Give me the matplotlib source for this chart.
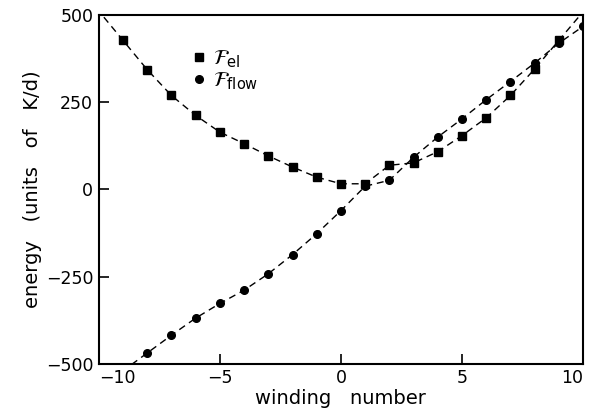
import numpy as np
import matplotlib
matplotlib.use("Agg")
import matplotlib.pyplot as plt

# winding number vs energy (units of K/d)
x_el = [-9, -8, -7, -6, -5, -4, -3, -2, -1, 0, 1, 2, 3, 4, 5, 6, 7, 8, 9]
f_el = [427, 343, 269, 212, 164, 131, 96, 64, 35, 16, 16, 69, 76, 108, 154, 205, 269, 345, 427]

x_flow = [-8, -7, -6, -5, -4, -3, -2, -1, 0, 1, 2, 3, 4, 5, 6, 7, 8, 9, 10]
f_flow = [-469, -418, -369, -327, -289, -242, -187, -127, -61, 9, 26, 92, 150, 202, 257, 309, 362, 419, 467]


def extend(x, y, lo=-11, hi=11):
    """connect the points and run the end segments out past the frame"""
    x = list(x); y = list(y)
    s0 = (y[1] - y[0]) / (x[1] - x[0])
    s1 = (y[-1] - y[-2]) / (x[-1] - x[-2])
    xs = [lo] + x + [hi]
    ys = [y[0] + s0 * (lo - x[0])] + y + [y[-1] + s1 * (hi - x[-1])]
    return xs, ys


plt.rcParams['font.family'] = 'DejaVu Sans'
fig = plt.figure(figsize=(5.95, 4.13), dpi=100)
ax = fig.add_axes([0.166, 0.119, 0.814, 0.845])

dash = (0, (5, 3.5))
xs, ys = extend(x_el, f_el)
ax.plot(xs, ys, color='black', lw=1.0, linestyle=dash)
xs, ys = extend(x_flow, f_flow)
ax.plot(xs, ys, color='black', lw=1.0, linestyle=dash)

ax.plot(x_el, f_el, 's', color='black', ms=5.5, label=r'$\mathcal{F}_{\mathsf{el}}$')
ax.plot(x_flow, f_flow, 'o', color='black', ms=5.5, label=r'$\mathcal{F}_{\mathsf{flow}}$')

ax.set_xlim(-10, 10)
ax.set_ylim(-500, 500)
ax.set_xticks([-10, -5, 0, 5, 10])
ax.set_yticks([-500, -250, 0, 250, 500])
ax.tick_params(direction='in', length=7, width=1.2, labelsize=12.5, pad=4)
xl = ax.get_xticklabels()
xl[0].set_ha('left')
xl[-1].set_ha('right')
for sp in ax.spines.values():
    sp.set_linewidth(1.5)

ax.set_xlabel('winding   number', fontsize=14, labelpad=1)
ax.set_ylabel('energy   (units   of   K/d)', fontsize=14, labelpad=3)

ax.legend(loc='upper left', bbox_to_anchor=(0.15, 0.947), frameon=False,
          fontsize=15, handletextpad=0.1, labelspacing=0.05, handlelength=1.2,
          borderpad=0.2)

fig.savefig('out.png', dpi=100)
